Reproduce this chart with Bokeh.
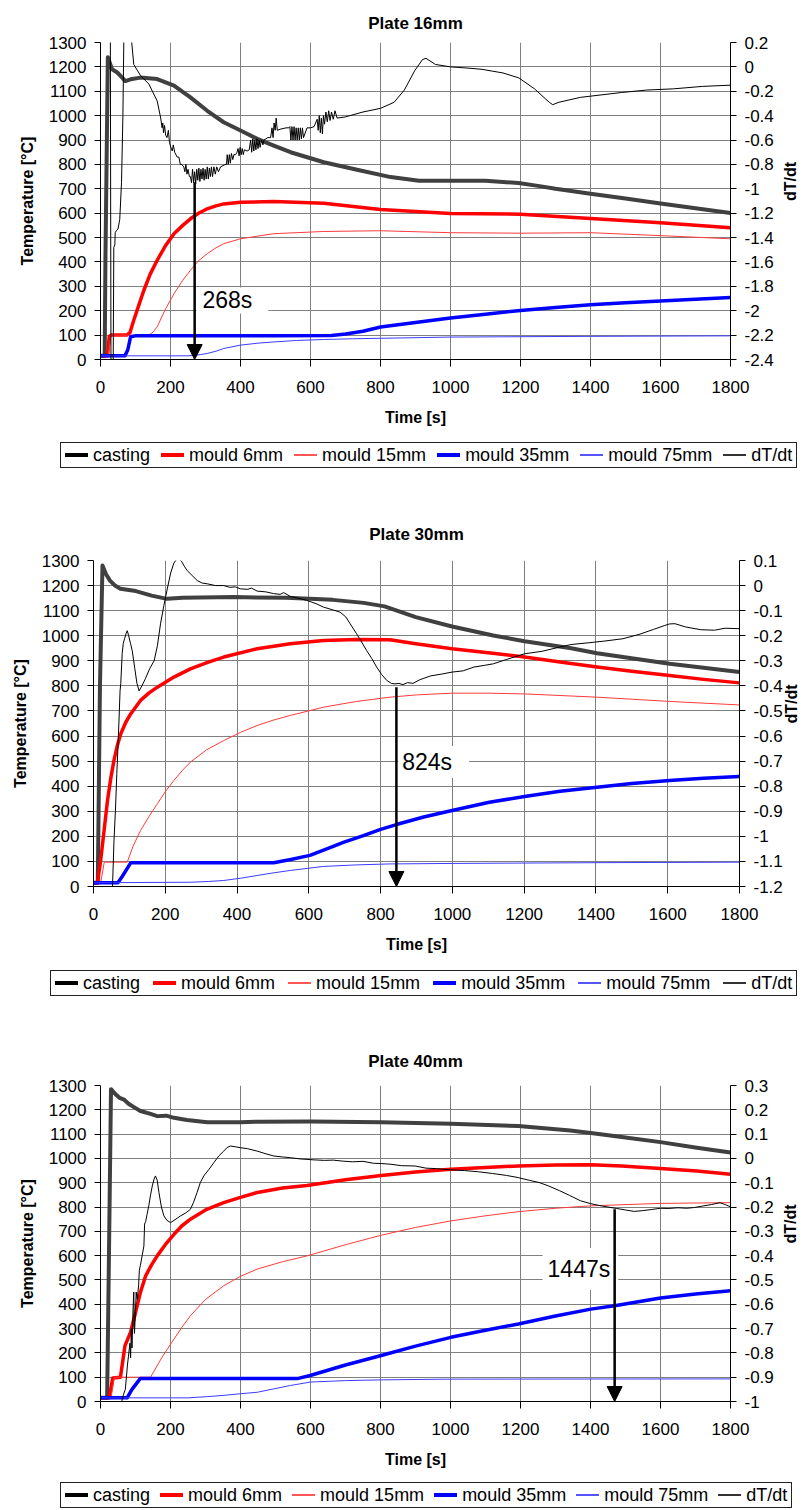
import math
from bokeh.plotting import figure
from bokeh.models import (Range1d, LinearAxis, FixedTicker, CustomJSTickFormatter,
                          Arrow, NormalHead, Label, Div)
from bokeh.layouts import column, row
from bokeh.embed import file_html
from bokeh.resources import INLINE

FONT = "Liberation Sans"

# ---------------- data ----------------
titles = ["Plate 16mm", "Plate 30mm", "Plate 40mm"]
series_names = ["casting", "mould 6mm", "mould 15mm", "mould 35mm", "mould 75mm", "dT/dt"]

time_ticks = [0, 200, 400, 600, 800, 1000, 1200, 1400, 1600, 1800]
temp_ticks = [0, 100, 200, 300, 400, 500, 600, 700, 800, 900, 1000, 1100, 1200, 1300]
dt_ticks_16 = [-2.4, -2.2, -2.0, -1.8, -1.6, -1.4, -1.2, -1.0, -0.8, -0.6, -0.4, -0.2, 0.0, 0.2]
dt_ticks_30 = [-1.2, -1.1, -1.0, -0.9, -0.8, -0.7, -0.6, -0.5, -0.4, -0.3, -0.2, -0.1, 0.0, 0.1]
dt_ticks_40 = [-1.0, -0.9, -0.8, -0.7, -0.6, -0.5, -0.4, -0.3, -0.2, -0.1, 0.0, 0.1, 0.2, 0.3]

# ---- Plate 16mm ----
t16_cast = [0, 12, 14, 21, 33, 48, 62, 71, 86, 114, 162, 210, 257, 305, 352, 400, 448, 495, 543, 638, 733, 829, 910, 1000, 1100, 1194, 1250, 1300, 1400, 1500, 1600, 1700, 1800]
T16_cast = [15, 15, 400, 1240, 1190, 1177, 1156, 1142, 1149, 1156, 1150, 1123, 1075, 1020, 973, 939, 905, 877, 850, 809, 778, 748, 733, 733, 733, 724, 712, 700, 680, 660, 640, 620, 601]
t16_m6 = [0, 20, 25, 30, 75, 84, 95, 110, 124, 142, 162, 185, 210, 235, 257, 280, 305, 330, 352, 400, 495, 638, 800, 1000, 1200, 1400, 1600, 1800]
T16_m6 = [15, 15, 95, 100, 100, 110, 161, 225, 284, 350, 407, 465, 516, 550, 577, 600, 618, 630, 638, 645, 648, 641, 615, 599, 596, 578, 561, 540]
t16_m15 = [0, 22, 30, 138, 150, 162, 185, 210, 235, 257, 280, 305, 330, 352, 400, 495, 638, 800, 1000, 1200, 1400, 1600, 1800]
T16_m15 = [15, 15, 100, 100, 112, 134, 205, 270, 325, 366, 405, 434, 458, 475, 495, 516, 525, 528, 520, 518, 520, 508, 495]
t16_m35 = [0, 70, 78, 86, 100, 300, 500, 660, 700, 750, 800, 900, 1000, 1100, 1200, 1300, 1400, 1500, 1600, 1700, 1800]
T16_m35 = [15, 15, 40, 93, 97, 97, 97, 98, 105, 116, 133, 152, 170, 186, 201, 213, 225, 233, 240, 247, 254]
t16_m75 = [0, 250, 267, 285, 305, 330, 352, 400, 450, 495, 560, 638, 720, 800, 1000, 1400, 1800]
T16_m75 = [15, 15, 17, 20, 25, 34, 45, 59, 67, 72, 78, 82, 85, 87, 92, 95, 97]
dt16 = [(14, 0.5), (28, 0.5), (30, -2.6), (36, -2.6), (38, -1.48), (41, -1.46), (42, -1.36), (46, -1.34),
        (50, -1.33), (55, -1.25), (60, -0.95), (64, -0.4), (67, 0.3), (86, 0.3), (95, 0.02), (114, -0.07),
        (138, -0.14), (162, -0.28), (172, -0.42), (176, -0.50), (178, -0.46), (180, -0.54), (183, -0.48),
        (186, -0.56), (190, -0.58), (194, -0.52), (197, -0.62), (201, -0.66), (205, -0.69), (208, -0.64),
        (212, -0.70), (219, -0.74), (224, -0.74), (228, -0.80), (232, -0.80), (238, -0.82), (241, -0.86),
        (244, -0.80), (247, -0.88), (250, -0.84), (254, -0.90), (257, -0.90), (260, -0.95), (263, -0.84),
        (266, -0.95), (269, -0.86), (272, -0.96), (275, -0.84), (278, -0.93), (281, -0.83), (284, -0.94),
        (287, -0.84), (290, -0.92), (293, -0.83), (296, -0.93), (299, -0.84), (302, -0.92), (305, -0.82),
        (308, -0.92), (311, -0.83), (314, -0.90), (317, -0.82), (320, -0.90), (324, -0.82), (328, -0.88),
        (332, -0.82), (337, -0.86), (343, -0.82), (350, -0.81), (356, -0.80), (360, -0.80), (362, -0.72),
        (365, -0.80), (368, -0.72), (371, -0.79), (374, -0.71), (378, -0.76), (381, -0.72), (386, -0.72),
        (390, -0.70), (393, -0.67), (396, -0.73), (399, -0.66), (402, -0.72), (405, -0.67), (408, -0.72),
        (411, -0.68), (419, -0.69), (425, -0.68), (429, -0.60), (432, -0.70), (435, -0.59), (438, -0.69),
        (441, -0.60), (444, -0.68), (447, -0.59), (450, -0.67), (453, -0.60), (456, -0.66), (460, -0.60),
        (464, -0.64), (467, -0.60), (478, -0.58), (486, -0.58), (490, -0.50), (493, -0.58), (496, -0.46),
        (499, -0.52), (502, -0.42), (505, -0.52), (515, -0.51), (530, -0.50), (538, -0.50), (541, -0.49),
        (544, -0.60), (547, -0.49), (550, -0.60), (553, -0.49), (556, -0.60), (559, -0.50), (562, -0.60),
        (565, -0.50), (568, -0.60), (571, -0.50), (574, -0.59), (577, -0.50), (580, -0.58), (590, -0.50),
        (600, -0.50), (610, -0.49), (619, -0.43), (622, -0.52), (625, -0.40), (628, -0.54), (631, -0.42),
        (634, -0.55), (637, -0.40), (640, -0.47), (644, -0.37), (648, -0.45), (652, -0.36), (656, -0.44),
        (660, -0.37), (665, -0.43), (670, -0.36), (676, -0.42), (700, -0.41), (750, -0.37), (800, -0.34),
        (839, -0.29), (868, -0.19), (898, -0.03), (920, 0.06), (930, 0.07), (957, 0.02), (1000, 0.0),
        (1050, -0.01), (1090, -0.02), (1150, -0.05), (1195, -0.09), (1240, -0.18), (1282, -0.29),
        (1292, -0.31), (1310, -0.29), (1371, -0.25), (1430, -0.23), (1489, -0.21), (1560, -0.19),
        (1637, -0.18), (1720, -0.16), (1800, -0.15)]

# ---- Plate 30mm ----
t30_cast = [0, 12, 18, 25, 35, 46, 60, 75, 118, 162, 205, 248, 393, 537, 667, 753, 811, 898, 999, 1114, 1201, 1331, 1403, 1605, 1800]
T30_cast = [15, 15, 800, 1280, 1245, 1220, 1200, 1187, 1178, 1160, 1147, 1151, 1154, 1151, 1143, 1131, 1117, 1074, 1037, 1001, 978, 950, 930, 888, 855]
t30_m6 = [0, 11, 20, 30, 39, 48, 57, 66, 76, 90, 104, 131, 155, 178, 224, 270, 320, 363, 456, 548, 641, 733, 826, 898, 999, 1100, 1201, 1300, 1403, 1500, 1605, 1700, 1800]
T30_m6 = [15, 15, 104, 230, 343, 430, 503, 560, 609, 655, 689, 742, 772, 795, 835, 868, 895, 915, 948, 968, 981, 985, 984, 968, 948, 932, 915, 895, 875, 858, 841, 826, 812]
t30_m15 = [0, 20, 30, 94, 110, 131, 155, 178, 200, 224, 247, 270, 315, 363, 410, 456, 500, 548, 641, 733, 826, 900, 999, 1100, 1201, 1403, 1605, 1800]
T30_m15 = [15, 15, 97, 97, 160, 223, 280, 330, 378, 423, 462, 496, 545, 582, 615, 642, 663, 682, 715, 738, 755, 764, 771, 771, 768, 755, 738, 724]
t30_m35 = [0, 68, 80, 104, 300, 502, 550, 603, 659, 696, 750, 800, 844, 920, 999, 1103, 1201, 1300, 1403, 1500, 1605, 1700, 1800]
T30_m35 = [15, 15, 40, 95, 95, 95, 108, 124, 155, 176, 202, 228, 247, 277, 303, 336, 359, 380, 396, 411, 423, 432, 439]
t30_m75 = [0, 270, 320, 363, 410, 456, 500, 548, 600, 641, 730, 826, 1000, 1400, 1800]
T30_m75 = [15, 17, 20, 24, 33, 44, 54, 64, 73, 80, 86, 90, 92, 95, 97]
dt30 = [(50, -1.3), (53, -1.2), (57, -1.02), (61, -0.90), (65, -0.75), (68, -0.65), (71, -0.54), (74, -0.42),
        (76, -0.39), (80, -0.27), (83, -0.23), (87, -0.21), (91, -0.19), (94, -0.18), (98, -0.20),
        (103, -0.23), (108, -0.26), (115, -0.33), (121, -0.39), (127, -0.42), (135, -0.40), (145, -0.37),
        (157, -0.33), (169, -0.30), (178, -0.24), (187, -0.15), (196, -0.08), (206, -0.01), (215, 0.05),
        (224, 0.09), (232, 0.105), (238, 0.107), (246, 0.095), (254, 0.075), (261, 0.06), (275, 0.04),
        (289, 0.02), (303, 0.01), (317, 0.007), (340, 0.0), (363, 0.0), (380, -0.007), (395, -0.005),
        (409, -0.013), (430, -0.015), (440, -0.01), (456, -0.022), (480, -0.025), (502, -0.032),
        (520, -0.035), (530, -0.028), (548, -0.043), (570, -0.05), (594, -0.059), (620, -0.072),
        (641, -0.086), (665, -0.096), (687, -0.106), (703, -0.125), (715, -0.152), (733, -0.192),
        (747, -0.225), (761, -0.259), (775, -0.29), (789, -0.325), (803, -0.355), (817, -0.378),
        (830, -0.39), (840, -0.392), (851, -0.39), (862, -0.395), (875, -0.387), (890, -0.39),
        (910, -0.375), (940, -0.36), (970, -0.353), (999, -0.345), (1030, -0.34), (1060, -0.325),
        (1090, -0.318), (1114, -0.312), (1150, -0.295), (1201, -0.272), (1250, -0.262), (1300, -0.245),
        (1331, -0.235), (1380, -0.228), (1420, -0.222), (1475, -0.212), (1520, -0.195), (1560, -0.175),
        (1590, -0.16), (1605, -0.153), (1620, -0.152), (1650, -0.165), (1692, -0.176), (1730, -0.178),
        (1760, -0.17), (1800, -0.172)]

# ---- Plate 40mm ----
t40_cast = [0, 19, 25, 30, 40, 55, 67, 80, 99, 114, 143, 162, 188, 210, 247, 305, 400, 454, 602, 802, 1001, 1194, 1342, 1401, 1489, 1600, 1704, 1800]
T40_cast = [15, 15, 700, 1285, 1268, 1249, 1242, 1225, 1208, 1195, 1183, 1174, 1176, 1167, 1158, 1149, 1149, 1151, 1152, 1149, 1143, 1133, 1115, 1105, 1088, 1067, 1044, 1024]
t40_m6 = [0, 25, 35, 57, 70, 86, 99, 114, 129, 145, 162, 185, 210, 232, 257, 300, 352, 400, 448, 520, 590, 700, 802, 900, 1001, 1100, 1194, 1300, 1401, 1489, 1600, 1704, 1800]
T40_m6 = [15, 15, 97, 100, 230, 285, 360, 449, 517, 560, 599, 645, 688, 722, 750, 788, 818, 840, 860, 878, 889, 912, 930, 944, 955, 963, 969, 973, 974, 969, 959, 948, 935]
t40_m15 = [0, 30, 40, 143, 175, 210, 235, 257, 300, 352, 400, 448, 520, 590, 700, 802, 900, 1001, 1100, 1194, 1300, 1401, 1600, 1800]
T40_m15 = [15, 15, 100, 100, 180, 257, 310, 353, 420, 476, 515, 545, 575, 599, 645, 684, 716, 743, 764, 781, 795, 805, 815, 818]
t40_m35 = [0, 76, 90, 114, 300, 565, 599, 700, 802, 900, 1001, 1100, 1194, 1300, 1401, 1469, 1600, 1700, 1800]
T40_m35 = [15, 15, 50, 95, 95, 95, 107, 150, 189, 228, 264, 293, 319, 352, 380, 394, 426, 442, 456]
t40_m75 = [0, 250, 305, 350, 400, 448, 495, 543, 600, 700, 802, 1001, 1800]
T40_m75 = [15, 15, 20, 25, 32, 38, 52, 66, 80, 86, 89, 92, 93]
dt40 = [(57, -1.05), (62, -0.99), (66, -0.97), (71, -0.95), (74, -0.90), (77, -0.85), (81, -0.80), (84, -0.76),
        (86, -0.82), (88, -0.70), (90, -0.78), (93, -0.62), (95, -0.55), (97, -0.72), (100, -0.63),
        (102, -0.55), (105, -0.58), (109, -0.52), (111, -0.46), (114, -0.44), (119, -0.40), (124, -0.36),
        (126, -0.27), (129, -0.26), (133, -0.23), (138, -0.195), (143, -0.15), (148, -0.113), (153, -0.085),
        (157, -0.072), (162, -0.09), (167, -0.14), (174, -0.20), (181, -0.236), (190, -0.255), (200, -0.264),
        (210, -0.255), (220, -0.245), (229, -0.236), (243, -0.225), (257, -0.209), (266, -0.18), (276, -0.14),
        (285, -0.10), (295, -0.072), (310, -0.045), (324, -0.017), (338, 0.01), (352, 0.03), (362, 0.045),
        (371, 0.051), (385, 0.048), (400, 0.044), (420, 0.04), (448, 0.03), (470, 0.02), (495, 0.01),
        (520, 0.006), (543, 0.003), (570, -0.002), (590, -0.004), (610, -0.006), (640, -0.008), (665, -0.007),
        (691, -0.011), (720, -0.014), (750, -0.012), (780, -0.02), (802, -0.021), (830, -0.024), (860, -0.03),
        (898, -0.031), (930, -0.04), (960, -0.042), (1001, -0.047), (1040, -0.05), (1080, -0.055),
        (1120, -0.062), (1160, -0.07), (1194, -0.079), (1225, -0.09), (1253, -0.099), (1280, -0.113),
        (1312, -0.133), (1340, -0.152), (1371, -0.174), (1400, -0.186), (1430, -0.195), (1450, -0.2),
        (1475, -0.206), (1500, -0.212), (1525, -0.218), (1549, -0.215), (1575, -0.21), (1600, -0.205),
        (1622, -0.206), (1650, -0.203), (1675, -0.205), (1697, -0.202), (1720, -0.196), (1745, -0.19),
        (1770, -0.182), (1785, -0.19), (1800, -0.199)]

# annotations: arrow time, dT/dt at arrow top, label text
arrow_t = [269, 844, 1469]
arrow_top_dt = [-0.946, -0.405, -0.209]
label_text = ["268s", "824s", "1447s"]

panels_data = [
    dict(cast=(t16_cast, T16_cast), m6=(t16_m6, T16_m6), m15=(t16_m15, T16_m15),
         m35=(t16_m35, T16_m35), m75=(t16_m75, T16_m75), dt=dt16, dt_ticks=dt_ticks_16),
    dict(cast=(t30_cast, T30_cast), m6=(t30_m6, T30_m6), m15=(t30_m15, T30_m15),
         m35=(t30_m35, T30_m35), m75=(t30_m75, T30_m75), dt=dt30, dt_ticks=dt_ticks_30),
    dict(cast=(t40_cast, T40_cast), m6=(t40_m6, T40_m6), m15=(t40_m15, T40_m15),
         m35=(t40_m35, T40_m35), m75=(t40_m75, T40_m75), dt=dt40, dt_ticks=dt_ticks_40),
]

# ---------------- layout / style (not data) ----------------
W = 811
LEG_H = 28
layout_cfg = [
    dict(height=441, mb=(100, 81, 42, 82), title_std=19, r_std=(8, 14), leg_x=60, gap=11,
         lab_pos=(274, 242), lab_pad=dict(left=6, right=16, top=0, bottom=0)),
    dict(height=500, mb=(93, 70, 91, 83), title_std=34, r_std=(8, 6), leg_x=50, gap=13,
         lab_pos=(849, 496), lab_pad=dict(left=4, right=17, top=3, bottom=3)),
    dict(height=484, mb=(100, 81, 88, 80), title_std=30, r_std=(8, 14), leg_x=60, gap=10,
         lab_pos=(1263, 545), lab_pad=dict(left=5, right=8, top=8, bottom=8)),
]

styles = {
    "casting": dict(color="#404040", width=4.0),
    "mould 6mm": dict(color="#ff0000", width=3.5),
    "mould 15mm": dict(color="#ff3b3b", width=1.0),
    "mould 35mm": dict(color="#0000ff", width=3.5),
    "mould 75mm": dict(color="#3c3cff", width=1.0),
    "dT/dt": dict(color="#000000", width=1.0),
}
legend_styles = {
    "casting": dict(color="#000000", width=4),
    "mould 6mm": dict(color="#ff0000", width=4),
    "mould 15mm": dict(color="#ff5555", width=2),
    "mould 35mm": dict(color="#0000ff", width=4),
    "mould 75mm": dict(color="#5555ff", width=2),
    "dT/dt": dict(color="#333333", width=2),
}

HAS_ORIENT = "axis_label_orientation" in LinearAxis.properties()


def style_axis(ax, label, tick_out, label_std, axis_std):
    ax.axis_label = label
    ax.axis_label_text_font = FONT
    ax.axis_label_text_font_size = "16px"
    ax.axis_label_text_font_style = "bold"
    ax.axis_label_text_color = "black"
    ax.major_label_text_font = FONT
    ax.major_label_text_font_size = "17px"
    ax.major_label_text_color = "black"
    ax.axis_line_color = "black"
    ax.axis_line_width = 1
    ax.major_tick_line_color = "black"
    ax.major_tick_out = tick_out
    ax.major_tick_in = 0
    ax.minor_tick_line_color = None
    ax.minor_tick_out = 0
    ax.minor_tick_in = 0
    ax.major_label_standoff = label_std
    ax.axis_label_standoff = axis_std


def legend_div(leg_x, gap):
    parts = []
    for k, n in enumerate(series_names):
        st = legend_styles[n]
        mr = 0 if k == len(series_names) - 1 else gap
        parts.append(
            f'<span style="display:inline-flex;align-items:center;margin-right:{mr}px;">'
            f'<span style="display:inline-block;width:23px;height:{st["width"]}px;'
            f'background:{st["color"]};margin-right:5px;"></span>'
            f'<span>{n}</span></span>')
    html = (
        f'<div style="position:relative;width:{W}px;height:{LEG_H}px;">'
        f'<div style="position:absolute;left:{leg_x}px;top:1px;height:26px;box-sizing:border-box;'
        f'border:1px solid #222;background:white;display:flex;align-items:center;padding:0 4px;'
        f"font-family:'{FONT}';font-size:18px;line-height:18px;color:black;white-space:nowrap;\">"
        + "".join(parts) + '</div></div>')
    return Div(text=html, width=W, height=LEG_H, margin=0)


children = []
for i in range(3):
    d = panels_data[i]
    c = layout_cfg[i]
    ml, mr, mt, mb = c["mb"]
    dt_ticks = d["dt_ticks"]
    p = figure(width=W, height=c["height"], x_range=Range1d(0, 1800), y_range=Range1d(0, 1300),
               output_backend="svg", toolbar_location=None, title=titles[i],
               min_border_left=ml, min_border_right=mr, min_border_top=mt, min_border_bottom=mb)
    p.extra_y_ranges = {"dt": Range1d(dt_ticks[0], dt_ticks[-1])}
    p.outline_line_color = None
    p.background_fill_color = "white"
    p.border_fill_color = "white"
    p.title.text_font = FONT
    p.title.text_font_size = "17px"
    p.title.text_font_style = "bold"
    p.title.text_color = "black"
    p.title.align = "center"
    p.title.standoff = c["title_std"]

    xa = p.xaxis[0]
    xa.ticker = FixedTicker(ticks=time_ticks)
    style_axis(xa, "Time [s]", 7, 14, 13)
    ya = p.yaxis[0]
    ya.ticker = FixedTicker(ticks=temp_ticks)
    style_axis(ya, "Temperature [°C]", 6, 8, 10)

    ra = LinearAxis(y_range_name="dt", ticker=FixedTicker(ticks=dt_ticks),
                    formatter=CustomJSTickFormatter(code="return String(Math.round(tick*10)/10);"))
    style_axis(ra, "dT/dt", 6, c["r_std"][0], c["r_std"][1])
    if HAS_ORIENT:
        ra.axis_label_orientation = math.pi / 2
    p.add_layout(ra, "right")

    for g in (p.xgrid[0], p.ygrid[0]):
        g.grid_line_color = "#808080"
        g.grid_line_width = 1
    p.xgrid[0].ticker = FixedTicker(ticks=time_ticks)
    p.ygrid[0].ticker = FixedTicker(ticks=temp_ticks)

    for key, name in zip(["cast", "m6", "m15", "m35", "m75"], series_names[:5]):
        tt, vv = d[key]
        st = styles[name]
        p.line(tt, vv, line_color=st["color"], line_width=st["width"], line_join="round")
    dt_t = [a for a, b in d["dt"]]
    dt_v = [b for a, b in d["dt"]]
    st = styles["dT/dt"]
    p.line(dt_t, dt_v, line_color=st["color"], line_width=st["width"], y_range_name="dt")

    # annotation: white label box + arrow
    lab = Label(x=c["lab_pos"][0], y=c["lab_pos"][1], text=label_text[i], text_font=FONT,
                text_font_size="23px", text_color="black", text_align="left", text_baseline="middle",
                background_fill_color="white", background_fill_alpha=1.0, padding=c["lab_pad"])
    p.add_layout(lab)
    arr = Arrow(end=NormalHead(size=15, fill_color="black", line_color="black"),
                x_start=arrow_t[i], y_start=arrow_top_dt[i], x_end=arrow_t[i], y_end=dt_ticks[0],
                line_width=2.5, line_color="black", y_range_name="dt")
    p.add_layout(arr)

    children.append(row(p, spacing=0))
    children.append(legend_div(c["leg_x"], c["gap"]))

layout = column(*children, spacing=0)
open("out.html", "w").write(file_html(layout, INLINE))
